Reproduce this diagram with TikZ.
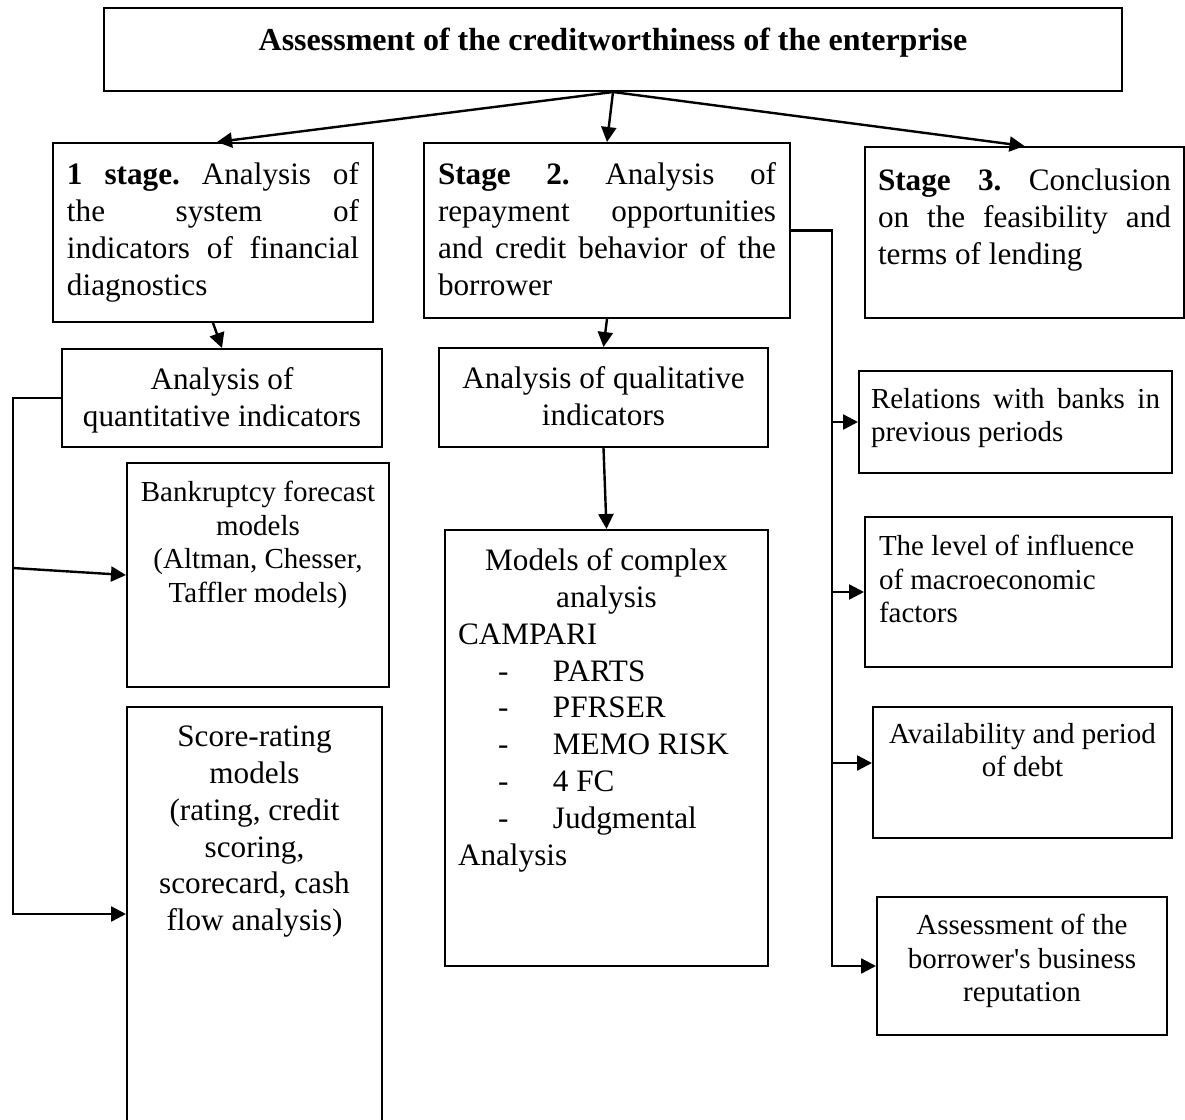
\documentclass[tikz,border=0pt]{standalone}
\usepackage{fontspec}
\setmainfont{Liberation Serif}
\usetikzlibrary{arrows.meta}
\hyphenpenalty=10000
\exhyphenpenalty=10000
\tolerance=10000
\frenchspacing
\newcommand{\cellpar}[4]{\parbox[c][#2][t]{#1}{\vspace*{#3}#4}}
\newcommand{\dashitem}[1]{\makebox[47.5pt][l]{\hspace*{20pt}-}#1}

\begin{document}
\begin{tikzpicture}[x=0.5pt, y=-0.5pt,
  cellbox/.style={draw, line width=1pt, anchor=north west, inner ysep=0pt},
  bigtext/.style={font=\fontsize{15.6}{18.4}\selectfont},
  smalltext/.style={font=\fontsize{14.5}{16.8}\selectfont},
  link/.style={line width=1.2pt, -{Triangle[length=7.5pt,width=7.5pt]}}]
\useasboundingbox (0,0) rectangle (1185,1120);
\clip (0,0) rectangle (1185,1120);

% top row
\node[cellbox, inner xsep=0pt] (top) at (103,7) {\cellpar{509pt}{41.5pt}{10pt}{\centering\fontsize{16}{19}\selectfont\bfseries Assessment of the creditworthiness of the enterprise}};
\node[cellbox, bigtext, inner xsep=7pt] (stage1) at (52,142) {\cellpar{146pt}{89.5pt}{10pt}{\textbf{1 stage.} Analysis of\linebreak the system of\linebreak indicators of financial\linebreak diagnostics}};
\node[cellbox, bigtext, inner xsep=7pt] (stage2) at (423,142) {\cellpar{169pt}{87.5pt}{10pt}{\textbf{Stage 2.} Analysis of\linebreak repayment opportunities\linebreak and credit behavior of the\linebreak borrower}};
\node[cellbox, bigtext, inner xsep=6.5pt] (stage3) at (864,146) {\cellpar{146.5pt}{85.5pt}{11pt}{\textbf{Stage 3.} Conclusion\linebreak on the feasibility and\linebreak terms of lending}};

% left column
\node[cellbox, bigtext, inner xsep=5pt] (quant) at (61,348) {\cellpar{150pt}{49pt}{9.4pt}{\centering Analysis of\\ quantitative indicators}};
\node[cellbox, smalltext, inner xsep=5pt] (bank) at (126,462) {\cellpar{121pt}{112pt}{9pt}{\centering Bankruptcy forecast\\ models\\ (Altman, Chesser,\\ Taffler models)}};
\node[cellbox, bigtext, inner xsep=5pt] (score) at (126,706) {\cellpar{117.5pt}{212pt}{9.5pt}{\centering Score-rating\\ models\\ (rating, credit\\ scoring,\\ scorecard, cash\\ flow analysis)}};

% middle column
\node[cellbox, bigtext, inner xsep=5pt] (qual) at (438,347) {\cellpar{154.5pt}{49.5pt}{9.4pt}{\centering Analysis of qualitative\\ indicators}};
\node[cellbox, bigtext, inner xsep=6.5pt] (models) at (444,529) {\cellpar{148.5pt}{218pt}{9.4pt}{{\centering Models of complex\\ analysis\par}\raggedright CAMPARI\\ \dashitem{PARTS}\\ \dashitem{PFRSER}\\ \dashitem{MEMO RISK}\\ \dashitem{4 FC}\\ \dashitem{Judgmental}\\ Analysis}};

% right column
\node[cellbox, smalltext, inner xsep=6pt] (rel) at (858,370) {\cellpar{144.5pt}{51pt}{8.5pt}{Relations with banks in\linebreak previous periods}};
\node[cellbox, smalltext, inner xsep=7pt] (macro) at (864,516) {\cellpar{139.5pt}{75pt}{9pt}{\raggedright The level of influence\\ of macroeconomic\\ factors}};
\node[cellbox, smalltext, inner xsep=5pt] (avail) at (872,706) {\cellpar{139.5pt}{65.5pt}{8pt}{\centering Availability and period\\ of debt}};
\node[cellbox, smalltext, inner xsep=5pt] (assess) at (876,896) {\cellpar{135pt}{69pt}{8.5pt}{\centering Assessment of the\\ borrower\textquotesingle s business\\ reputation}};

% connectors
\draw[link] (top.south) -- ([xshift=2pt]stage1.north);
\draw[link] (top.south) -- (stage2.north);
\draw[link] (top.south) -- (stage3.north);
\draw[link] (stage1.south) -- (quant.north);
\draw[link] (stage2.south) -- (qual.north);
\draw[link] (qual.south) -- (models.north);

\coordinate (lbus) at (13,914);
\coordinate (ltap) at (13,568);
\draw[link] (quant.west) -| (lbus) -- (lbus -| score.west);
\draw[link] (ltap) -- (bank.west);

\coordinate (rbus) at (832,966);
\coordinate (avin) at ([yshift=4.75pt]avail.west);
\draw[link] (stage2.east) -| (rbus) -- (rbus -| assess.west);
\draw[link] (rel.west -| rbus) -- (rel.west);
\draw[link] (macro.west -| rbus) -- (macro.west);
\draw[link] (avin -| rbus) -- (avin);
\end{tikzpicture}
\end{document}
